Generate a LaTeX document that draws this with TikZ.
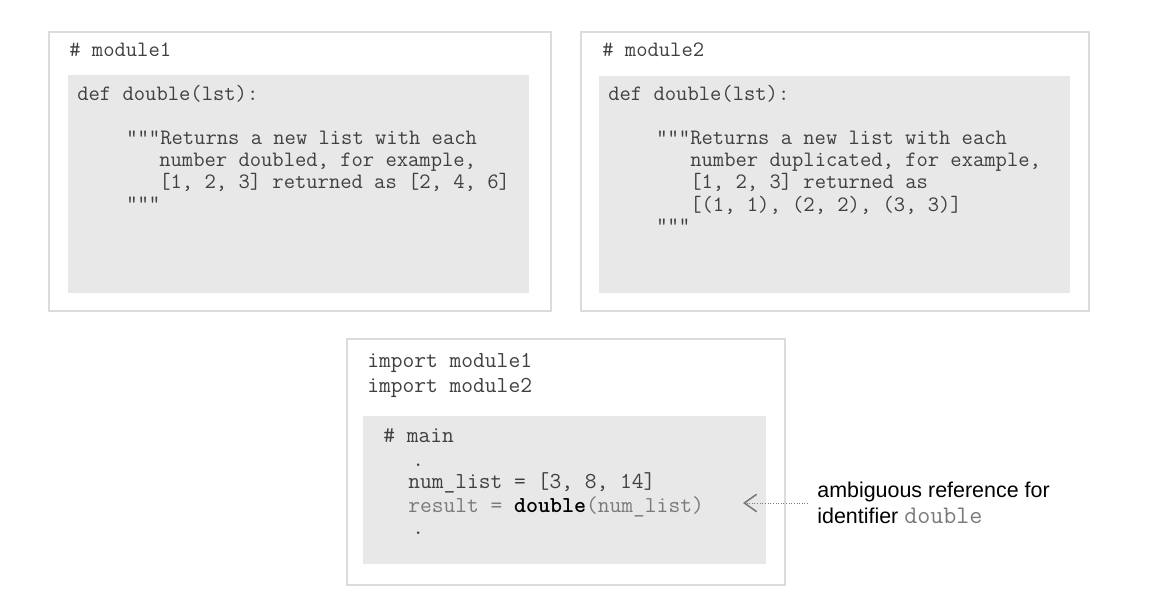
\documentclass[tikz,border=0pt]{standalone}
\usepackage{fontspec}
\setmainfont{Liberation Sans}
\usetikzlibrary{arrows.meta}
\definecolor{boxline}{HTML}{DCDCDC}
\definecolor{shade}{HTML}{E8E8E8}
\definecolor{ink}{HTML}{404040}
\definecolor{inklight}{HTML}{7A7A7A}
\tikzset{
    outerbox/.style={draw=boxline, line width=0.9pt, fill=white},
    innerbox/.style={fill=shade},
    code/.style={anchor=base west, inner sep=0pt, text=ink,
        font=\ttfamily\fontsize{12.5}{14}\selectfont},
    mcode/.style={code, font=\ttfamily\fontsize{13}{15}\selectfont},
    note/.style={anchor=base west, inner sep=0pt, text=black,
        font=\fontsize{12.2}{14}\selectfont},
    ptr/.style={inklight, densely dotted, line width=0.5pt,
        -{Straight Barb[length=2.4mm, width=3.4mm, line width=0.9pt, line cap=round]}}
}
\begin{document}
\begin{tikzpicture}[x=0.02cm, y=-0.02cm]
    \useasboundingbox (0,0) rectangle (1153,598);

    % module1
    \draw[outerbox] (49,32) rectangle (551,311);
    \fill[innerbox] (68,75) rectangle (529,293);
    \node[code] (m1name) at (69,57)  {\# module1};
    \node[code] (m1def)  at (77,101) {def double(lst):};
    \node[code] (m1doc1) at (126,145) {"""Returns a new list with each};
    \node[code] (m1doc2) at (159,167) {number doubled, for example,};
    \node[code] (m1doc3) at (159,188) {[1, 2, 3] returned as [2, 4, 6]};
    \node[code] (m1end)  at (126,210) {"""};

    % module2
    \draw[outerbox] (581,32) rectangle (1089,311);
    \fill[innerbox] (599,76) rectangle (1070,293);
    \node[code] (m2name) at (602,57)  {\# module2};
    \node[code] (m2def)  at (608,101) {def double(lst):};
    \node[code] (m2doc1) at (656,145) {"""Returns a new list with each};
    \node[code] (m2doc2) at (690,167) {number duplicated, for example,};
    \node[code] (m2doc3) at (690,189) {[1, 2, 3] returned as};
    \node[code] (m2doc4) at (690,211) {[(1, 1), (2, 2), (3, 3)]};
    \node[code] (m2end)  at (656,232) {"""};

    % main
    \draw[outerbox] (347,339) rectangle (785,585);
    \fill[innerbox] (363,416) rectangle (766,564);
    \node[mcode] (imp1)  at (367,367) {import module1};
    \node[mcode] (imp2)  at (367,392) {import module2};
    \node[mcode] (mname) at (383,442) {\# main};
    \node[mcode] (dot1)  at (412,466) {.};
    \node[mcode] (nums)  at (408,488) {num\_list = [3, 8, 14]};
    \node[mcode, text=inklight] (call) at (408,512)
        {result = {\color{black}\bfseries double}(num\_list)};
    \node[mcode] (dot2)  at (412,534) {.};

    % note on the call
    \coordinate (tip) at (743,503);
    \node[note] (note1) at (817,497) {ambiguous reference for};
    \node[note] (note2) at (817,523)
        {identifier {\ttfamily\fontsize{14.4}{16}\selectfont\color{inklight}double}};
    \draw[ptr] ([xshift=-0.18cm]tip -| note1.west) -- (tip);
\end{tikzpicture}
\end{document}
